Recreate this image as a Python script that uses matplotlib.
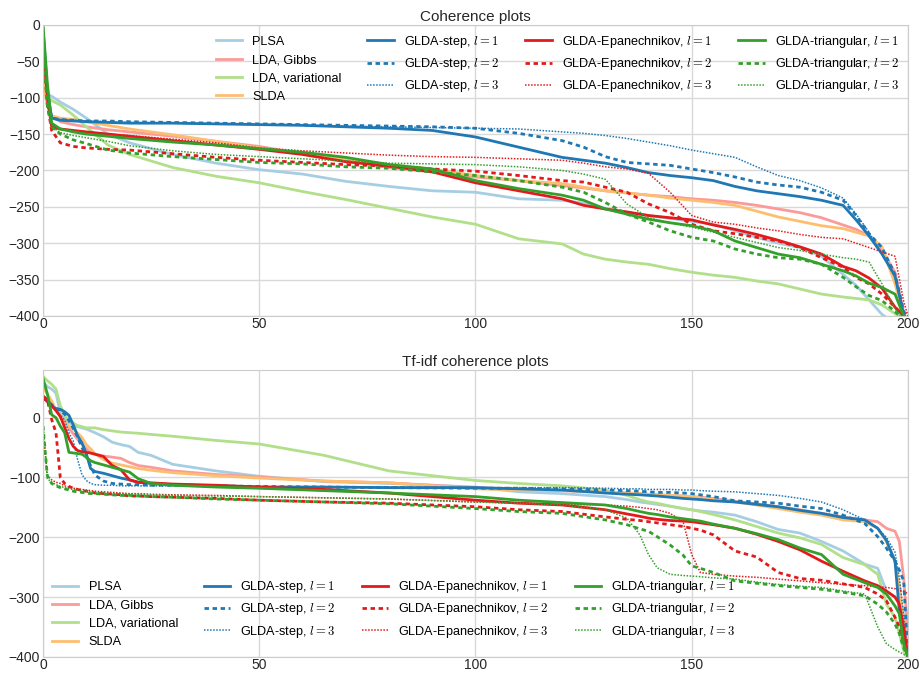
import matplotlib
matplotlib.use("Agg")
import matplotlib.pyplot as plt

# topic index grid for the two panels
x_top = [0, 1, 2, 4, 7, 10, 15, 20, 30, 40, 50, 60, 70, 80, 90, 100, 110, 120, 125, 130,
         135, 140, 145, 150, 155, 160, 165, 170, 175, 180, 185, 188, 191, 194, 197, 199, 200]
x_bot = [0, 1, 2, 3, 4, 5, 6, 7, 8, 9, 10, 11, 12, 14, 16, 18, 20, 22, 25, 30, 40, 50, 65, 80,
         100, 110, 120, 130, 135, 138, 140, 142, 145, 148, 150, 152, 155, 160, 165, 170, 175,
         180, 185, 190, 193, 195, 197, 198, 199, 200]

# Coherence plots
top_plsa = [-70, -95, -98, -106, -116, -128, -150, -162, -178, -190, -199, -205, -215, -222, -228, -230, -239, -241, -245, -252,
            -258, -262, -266, -270, -274, -283, -292, -300, -306, -318, -343, -358, -378, -398, -410, -415, -420]
top_gibbs = [-60, -110, -125, -133, -137, -140, -144, -147, -153, -160, -167, -177, -186, -196, -202, -209, -214, -221, -224, -228,
             -231, -234, -236, -239, -241, -244, -248, -253, -258, -265, -275, -281, -290, -310, -340, -395, -410]
top_var = [-90, -100, -104, -110, -124, -140, -165, -178, -196, -208, -217, -229, -240, -252, -264, -274, -294, -301, -315, -322,
           -326, -329, -335, -340, -344, -347, -352, -356, -363, -370, -374, -376, -378, -385, -397, -405, -410]
top_slda = [-80, -110, -125, -128, -130, -133, -138, -143, -151, -160, -169, -177, -184, -192, -198, -207, -214, -218, -223, -228,
            -231, -234, -238, -241, -244, -248, -256, -264, -270, -276, -280, -285, -290, -305, -356, -398, -410]
top_step1 = [-5, -90, -128, -131, -132, -133, -134, -135, -135, -136, -137, -138, -140, -142, -145, -154, -168, -182, -186, -190,
             -196, -203, -207, -210, -214, -222, -228, -232, -236, -241, -248, -268, -290, -315, -345, -398, -410]
top_step2 = [-10, -95, -128, -130, -131, -132, -132, -133, -134, -135, -136, -137, -138, -139, -140, -142, -149, -159, -168, -181,
             -189, -191, -193, -198, -203, -209, -216, -220, -223, -230, -241, -262, -287, -306, -343, -393, -405]
top_step3 = [-10, -95, -128, -130, -131, -132, -133, -134, -135, -136, -137, -138, -139, -140, -141, -142, -143, -147, -149, -152,
             -156, -161, -166, -172, -177, -182, -195, -207, -214, -224, -238, -260, -285, -315, -347, -398, -410]
top_epa1 = [-20, -100, -140, -143, -145, -147, -150, -153, -159, -165, -171, -178, -188, -194, -202, -217, -228, -239, -248, -253,
            -257, -262, -265, -268, -275, -281, -288, -296, -305, -315, -332, -338, -348, -362, -388, -400, -410]
top_epa2 = [-30, -110, -145, -162, -167, -169, -171, -172, -177, -182, -186, -189, -192, -194, -198, -201, -207, -214, -216, -223,
            -230, -246, -258, -274, -283, -287, -292, -297, -306, -320, -333, -347, -356, -370, -388, -400, -410]
top_epa3 = [-25, -110, -138, -143, -146, -148, -150, -152, -157, -162, -169, -173, -176, -179, -181, -182, -184, -186, -190, -195,
            -198, -204, -230, -262, -271, -274, -279, -283, -288, -292, -294, -300, -306, -312, -318, -380, -400]
top_tri1 = [0, -80, -135, -143, -147, -150, -153, -156, -161, -165, -170, -175, -182, -192, -198, -214, -225, -234, -241, -253,
            -260, -267, -272, -276, -283, -297, -306, -315, -320, -329, -338, -345, -355, -361, -370, -400, -410]
top_tri2 = [-30, -110, -140, -150, -158, -163, -172, -176, -181, -185, -189, -191, -195, -197, -202, -207, -214, -223, -230, -244,
            -260, -271, -283, -292, -297, -308, -315, -320, -322, -329, -347, -360, -372, -379, -394, -405, -410]
top_tri3 = [-25, -100, -140, -148, -152, -155, -160, -166, -173, -178, -181, -184, -187, -190, -191, -192, -195, -200, -205, -212,
            -246, -265, -272, -278, -285, -292, -299, -306, -310, -315, -320, -322, -326, -356, -390, -405, -410]

# Tf-idf coherence plots
bot_plsa = [60, 52, 48, 41, 8, -2, -8, -13, -15, -17, -19, -22, -25, -32, -41, -45, -48, -58, -63, -78, -89, -98, -107, -110,
            -116, -124, -127, -132, -137, -141, -143, -145, -148, -152, -154, -156, -158, -163, -174, -187, -193,
            -207, -223, -245, -252, -290, -300, -310, -330, -390]
bot_gibbs = [35, 30, 22, 14, 3, -6, -18, -27, -36, -44, -52, -59, -61, -64, -66, -68, -75, -80, -83, -89, -95, -99, -106, -109,
             -117, -120, -122, -124, -126, -127, -128, -129, -130, -131, -132, -133, -135, -140, -144, -149, -154,
             -160, -166, -171, -174, -185, -190, -207, -268, -360]
bot_var = [69, 62, 56, 48, 20, 4, -4, -9, -13, -15, -17, -17, -17, -20, -22, -24, -25, -26, -28, -31, -38, -44, -63, -89,
           -105, -110, -114, -121, -130, -137, -141, -143, -148, -152, -154, -157, -162, -171, -182, -193, -201,
           -212, -234, -246, -262, -312, -334, -360, -390, -405]
bot_slda = [50, 40, 28, 12, 2, -8, -14, -19, -26, -33, -45, -52, -60, -70, -76, -79, -82, -85, -88, -92, -97, -101, -106, -109,
            -119, -121, -122, -124, -126, -127, -128, -129, -130, -131, -132, -134, -137, -141, -146, -152, -158,
            -163, -171, -174, -185, -207, -240, -280, -339, -400]
bot_step1 = [36, 30, 20, 15, 14, 10, 4, -12, -30, -42, -60, -85, -90, -93, -97, -101, -104, -108, -110, -112, -114, -116, -116, -117,
             -117, -119, -121, -126, -128, -129, -130, -131, -133, -135, -136, -137, -139, -141, -145, -149, -155,
             -160, -167, -171, -185, -205, -240, -323, -370, -400]
bot_step2 = [32, 28, 22, 16, 12, 6, -5, -18, -32, -50, -65, -80, -96, -106, -110, -111, -112, -112, -113, -113, -114, -115, -116, -117,
             -118, -118, -119, -121, -122, -123, -124, -125, -125, -126, -127, -129, -132, -139, -141, -143, -148,
             -152, -163, -177, -199, -218, -240, -255, -273, -400]
bot_step3 = [30, 26, 20, 12, 4, -4, -25, -39, -70, -95, -105, -110, -112, -113, -113, -114, -114, -114, -114, -114, -115, -115, -116, -116,
             -117, -117, -117, -118, -119, -119, -120, -120, -120, -121, -121, -122, -123, -124, -127, -130, -135,
             -141, -154, -171, -185, -200, -225, -268, -330, -400]
bot_epa1 = [33, 28, 20, 12, 2, -16, -35, -48, -55, -57, -58, -59, -61, -65, -80, -87, -104, -108, -109, -111, -113, -116, -120, -126,
            -138, -143, -146, -154, -161, -165, -168, -170, -172, -173, -174, -176, -179, -185, -195, -207, -221,
            -240, -257, -273, -281, -290, -300, -312, -350, -400]
bot_epa2 = [36, 30, -3, -25, -100, -110, -115, -118, -120, -122, -123, -124, -126, -127, -128, -129, -131, -131, -132, -133, -135, -138, -141, -143,
            -149, -154, -157, -166, -170, -172, -174, -176, -179, -182, -185, -188, -196, -223, -233, -259, -269,
            -272, -278, -284, -295, -306, -334, -350, -378, -400]
bot_epa3 = [-19, -97, -104, -108, -110, -114, -116, -118, -119, -120, -121, -122, -123, -124, -125, -126, -127, -127, -128, -129, -130, -132, -134, -136,
            -141, -143, -145, -146, -148, -150, -152, -154, -160, -174, -229, -259, -262, -265, -267, -270, -273,
            -276, -279, -281, -283, -284, -286, -288, -290, -295]
bot_tri1 = [66, 40, 5, 0, -14, -25, -58, -59, -60, -61, -66, -72, -75, -79, -83, -87, -91, -102, -110, -113, -116, -118, -122, -126,
            -132, -138, -142, -146, -152, -157, -160, -162, -166, -169, -171, -173, -178, -185, -194, -204, -218,
            -229, -262, -276, -284, -295, -315, -328, -378, -400]
bot_tri2 = [-14, -97, -110, -114, -117, -119, -121, -123, -124, -125, -126, -127, -127, -128, -129, -130, -130, -131, -132, -133, -136, -138, -141, -144,
            -152, -157, -160, -171, -179, -186, -190, -199, -213, -230, -248, -252, -259, -273, -277, -281, -284,
            -287, -292, -298, -312, -325, -345, -361, -385, -400]
bot_tri3 = [-8, -102, -108, -112, -115, -117, -119, -120, -121, -122, -123, -124, -125, -126, -127, -127, -128, -128, -129, -130, -131, -132, -134, -136,
            -141, -143, -146, -154, -168, -196, -229, -251, -262, -264, -265, -266, -268, -270, -275, -279, -282,
            -284, -290, -295, -350, -378, -388, -392, -396, -400]

base_labels = ["PLSA", "LDA, Gibbs", "LDA, variational", "SLDA"]
base_colors = ["#a6cee3", "#fb9a99", "#b2df8a", "#fdbf6f"]
kernels = ["step", "Epanechnikov", "triangular"]
kernel_colors = ["#1f78b4", "#e31a1c", "#33a02c"]
styles = ["-", "--", ":"]

plt.rcParams["font.family"] = ["Liberation Sans", "DejaVu Sans"]
plt.rcParams["mathtext.fontset"] = "cm"

fig = plt.figure(figsize=(9.19, 6.75), dpi=100)
ax1 = fig.add_axes([0.0468, 0.532, 0.9412, 0.431])
ax2 = fig.add_axes([0.0468, 0.027, 0.9412, 0.425])


def draw(ax, x, base, glda, title, ylim, yticks, loc):
    for vals, lab, col in zip(base, base_labels, base_colors):
        ax.plot(x, vals, color=col, lw=2, label=lab)
    i = 0
    for k, kc in zip(kernels, kernel_colors):
        for l, ls in enumerate(styles):
            if ls == "--":
                ax.plot(x, glda[i], color=kc, lw=2, dashes=(1.6, 1.3),
                        label="GLDA-%s, $l=%d$" % (k, l + 1))
            elif ls == ":":
                ax.plot(x, glda[i], color=kc, lw=1.1, dashes=(1, 1),
                        label="GLDA-%s, $l=%d$" % (k, l + 1))
            else:
                ax.plot(x, glda[i], color=kc, lw=2,
                        label="GLDA-%s, $l=%d$" % (k, l + 1))
            i += 1
    ax.set_xlim(0, 200)
    ax.set_ylim(*ylim)
    ax.set_xticks([0, 50, 100, 150, 200])
    ax.set_yticks(yticks)
    ax.set_yticklabels([str(t).replace("-", "\u2212") for t in yticks])
    ax.grid(True, color="#d9d9d9", lw=1)
    ax.set_axisbelow(True)
    for s in ax.spines.values():
        s.set_color("#cccccc")
    ax.tick_params(axis="y", length=0, labelsize=10, colors="#262626", pad=2)
    ax.tick_params(axis="x", length=0, labelsize=10, colors="#262626", pad=1)
    ax.set_title(title, fontsize=11, color="#262626", pad=3)
    ax.legend(loc=loc, ncol=4, frameon=False, fontsize=9.1, handlelength=2.1,
              columnspacing=2.05, labelspacing=0.5, borderaxespad=0.3)


draw(ax1, x_top, [top_plsa, top_gibbs, top_var, top_slda],
     [top_step1, top_step2, top_step3, top_epa1, top_epa2, top_epa3, top_tri1, top_tri2, top_tri3],
     "Coherence plots", (-400, 0), [0, -50, -100, -150, -200, -250, -300, -350, -400], "upper right")
draw(ax2, x_bot, [bot_plsa, bot_gibbs, bot_var, bot_slda],
     [bot_step1, bot_step2, bot_step3, bot_epa1, bot_epa2, bot_epa3, bot_tri1, bot_tri2, bot_tri3],
     "Tf-idf coherence plots", (-400, 80), [0, -100, -200, -300, -400], "lower left")

fig.savefig("out.png", dpi=100)
